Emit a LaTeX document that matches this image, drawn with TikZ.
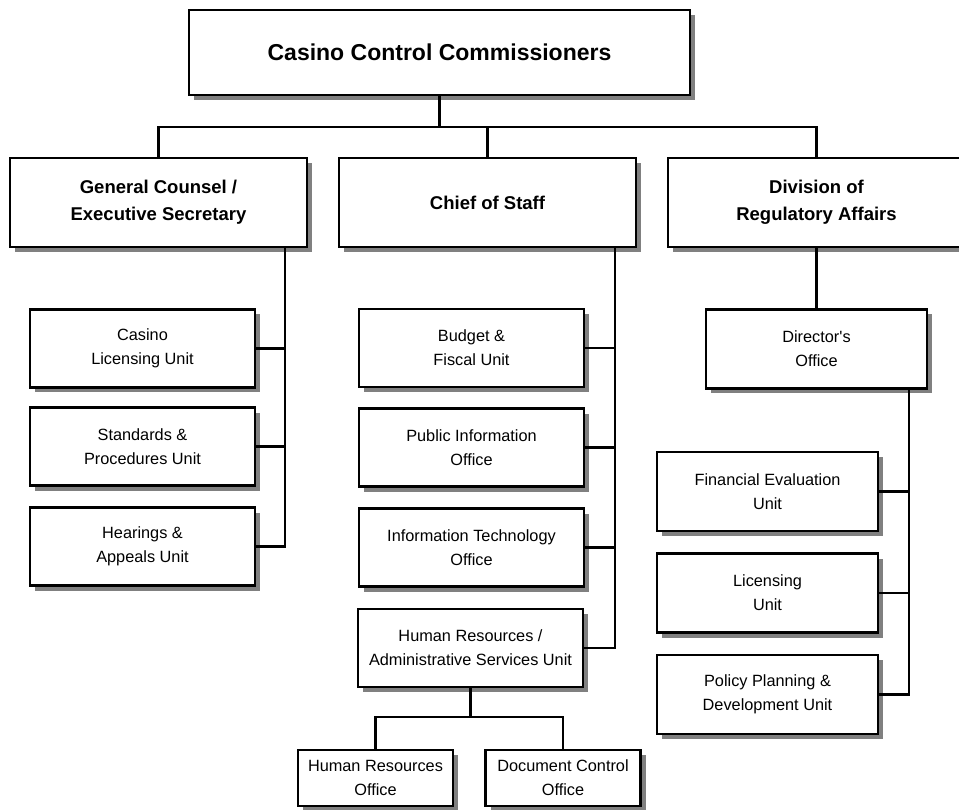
\documentclass[tikz,border=0pt]{standalone}
\usepackage{fontspec}
\setmainfont{Liberation Sans}
\usetikzlibrary{shadows}
\begin{document}
\begin{tikzpicture}[x=1pt,y=-1pt,
  box/.style={draw=black, line width=2.6pt, fill=white, inner sep=0pt, align=center,
    drop shadow={shadow xshift=5pt, shadow yshift=-5pt, opacity=1, fill=black!50}},
  topbox/.style={box, minimum width=501pt, minimum height=85pt, font=\bfseries\fontsize{23}{27}\selectfont},
  midbox/.style={box, minimum width=297pt, minimum height=89pt, font=\bfseries\fontsize{18.5}{27}\selectfont},
  unitbox/.style={box, minimum width=225pt, minimum height=78pt, font=\fontsize{16.3}{24}\selectfont},
  smallbox/.style={box, minimum width=155pt, minimum height=56pt, font=\fontsize{16.3}{24}\selectfont},
  dirbox/.style={box, minimum width=221pt, minimum height=79pt, font=\fontsize{16.3}{24}\selectfont},
  conn/.style={draw=black, line width=2.4pt}]
\useasboundingbox (0,0) rectangle (959,810);
\clip (0,0) rectangle (959,810);
\fill[white] (0,0) rectangle (959,810);

% coordinates for buses
\coordinate (busy) at (0,127);
\coordinate (hrbusy) at (0,717);
\coordinate (gcx) at (285,0);
\coordinate (cosx) at (615,0);
\coordinate (dox) at (909,0);

% nodes
\node[topbox] (top) at (439.5,52.5) {Casino Control Commissioners};
\node[midbox] (gc) at (158.5,202.5) {General Counsel /\\Executive Secretary};
\node[midbox] (cos) at (487.5,202.5) {Chief of Staff};
\node[midbox] (dra) at (816.5,202.5) {Division of\\Regulatory Affairs};

\node[unitbox] (cl) at (142.5,348.5) {Casino\\Licensing Unit};
\node[unitbox] (sp) at (142.5,446.5) {Standards \&\\Procedures Unit};
\node[unitbox] (ha) at (142.5,546.5) {Hearings \&\\Appeals Unit};

\node[unitbox] (bf) at (471.5,348) {Budget \&\\Fiscal Unit};
\node[unitbox] (pi) at (471.5,447.5) {Public Information\\Office};
\node[unitbox] (it) at (471.5,547.5) {Information Technology\\Office};
\node[unitbox] (hr) at (470.5,648) {Human Resources /\\Administrative Services Unit};

\node[smallbox] (hro) at (375.5,778) {Human Resources\\Office};
\node[smallbox] (dco) at (563,778) {Document Control\\Office};

\node[dirbox] (do) at (816.5,349) {Director\textquotesingle s\\Office};
\node[dirbox] (fe) at (767.5,491.5) {Financial Evaluation\\Unit};
\node[dirbox] (lu) at (767.5,593) {Licensing\\Unit};
\node[dirbox] (pp) at (767.5,694.5) {Policy Planning \&\\Development Unit};

% connectors between named nodes
\draw[conn] (top.south) -- (top.south |- busy);
\draw[conn] (gc.north) -- (gc.north |- busy) -| (dra.north);
\draw[conn] (cos.north) -- (cos.north |- busy);

\draw[conn] (gcx |- gc.south) -- (gcx |- ha.east) -- (ha.east);
\draw[conn] (cl.east) -- (gcx |- cl.east);
\draw[conn] (sp.east) -- (gcx |- sp.east);

\draw[conn] (cosx |- cos.south) -- (cosx |- hr.east) -- (hr.east);
\draw[conn] (bf.east) -- (cosx |- bf.east);
\draw[conn] (pi.east) -- (cosx |- pi.east);
\draw[conn] (it.east) -- (cosx |- it.east);

\draw[conn] (hr.south) -- (hr.south |- hrbusy);
\draw[conn] (hro.north) |- (hr.south |- hrbusy) -| (dco.north);

\draw[conn] (dra.south) -- (do.north);
\draw[conn] (dox |- do.south) -- (dox |- pp.east) -- (pp.east);
\draw[conn] (fe.east) -- (dox |- fe.east);
\draw[conn] (lu.east) -- (dox |- lu.east);
\end{tikzpicture}
\end{document}
